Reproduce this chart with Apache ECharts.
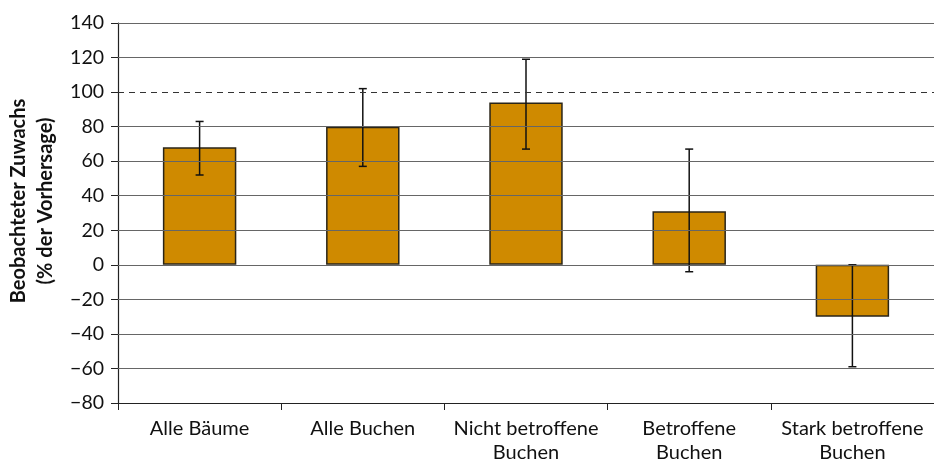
<!DOCTYPE html>
<html><head><meta charset="utf-8">
<script src="https://cdn.jsdelivr.net/npm/echarts@6/dist/echarts.min.js"></script>
<style>html,body{margin:0;padding:0;background:#fff}#c{width:934px;height:464px}</style>
</head><body><div id="c"></div>
<script>
const categories = ['Alle Bäume', 'Alle Buchen', 'Nicht betroffene\nBuchen', 'Betroffene\nBuchen', 'Stark betroffene\nBuchen'];
const values = [68, 80, 94, 31, -30];
const errLow = [52, 57, 67, -4, -59];
const errHigh = [83, 102, 119, 67, 0];
const gridValues = [-60, -40, -20, 0, 20, 40, 60, 80, 120, 140];
const refValue = 100;
const yLabel = 'Beobachteter Zuwachs\n(% der Vorhersage)';
const FONT = 'Lato';

const chart = echarts.init(document.getElementById('c'));
const gridMarks = gridValues.map(v => ({ yAxis: v, lineStyle: { type: 'solid', color: '#666', width: 1 } }));
gridMarks.push({ yAxis: refValue, lineStyle: { type: [6, 5], color: '#333', width: 1 } });

chart.setOption({
  animation: false,
  grid: { left: 118, right: 0, top: 23, bottom: 61, containLabel: false, outerBoundsMode: 'none' },
  xAxis: {
    type: 'category', data: categories,
    axisLine: { onZero: false, lineStyle: { color: '#222', width: 1.2 } },
    axisTick: { show: true, length: 7, lineStyle: { color: '#222' } },
    axisLabel: { fontFamily: FONT, fontSize: 20, color: '#111', margin: 14, lineHeight: 24, interval: 0 }
  },
  yAxis: {
    type: 'value', min: -80, max: 140, interval: 20,
    name: yLabel, nameLocation: 'middle', nameRotate: 90, nameGap: 57,
    nameTextStyle: { fontFamily: FONT, fontSize: 20, fontWeight: 'bold', color: '#111', lineHeight: 27,
      padding: [0, 0, 0, 24] },
    axisLine: { show: true, lineStyle: { color: '#222', width: 1.2 } },
    axisTick: { show: true, length: 7, lineStyle: { color: '#222' } },
    axisLabel: { fontFamily: FONT, fontSize: 19.5, color: '#111', margin: 14,
      formatter: v => v < 0 ? '\u2212' + Math.abs(v) : String(v) },
    splitLine: { show: false }
  },
  series: [
    { type: 'line', data: [], z: 1, silent: true,
      markLine: { symbol: 'none', silent: true, label: { show: false }, data: gridMarks, animation: false } },
    { type: 'bar', data: values, barWidth: '45%', z: 2,
      itemStyle: { color: '#CF8A00', borderColor: '#2a2518', borderWidth: 1.5 } },
    { type: 'custom', z: 3,
      data: categories.map((c, i) => [i, errLow[i], errHigh[i]]),
      renderItem: (params, api) => {
        const lo = api.coord([api.value(0), api.value(1)]);
        const hi = api.coord([api.value(0), api.value(2)]);
        const w = 4;
        const st = { stroke: '#111', lineWidth: 1.5 };
        return { type: 'group', children: [
          { type: 'line', shape: { x1: hi[0], y1: hi[1], x2: lo[0], y2: lo[1] }, style: st },
          { type: 'line', shape: { x1: hi[0] - w, y1: hi[1], x2: hi[0] + w, y2: hi[1] }, style: st },
          { type: 'line', shape: { x1: lo[0] - w, y1: lo[1], x2: lo[0] + w, y2: lo[1] }, style: st }
        ]};
      }
    }
  ]
});
</script></body></html>
